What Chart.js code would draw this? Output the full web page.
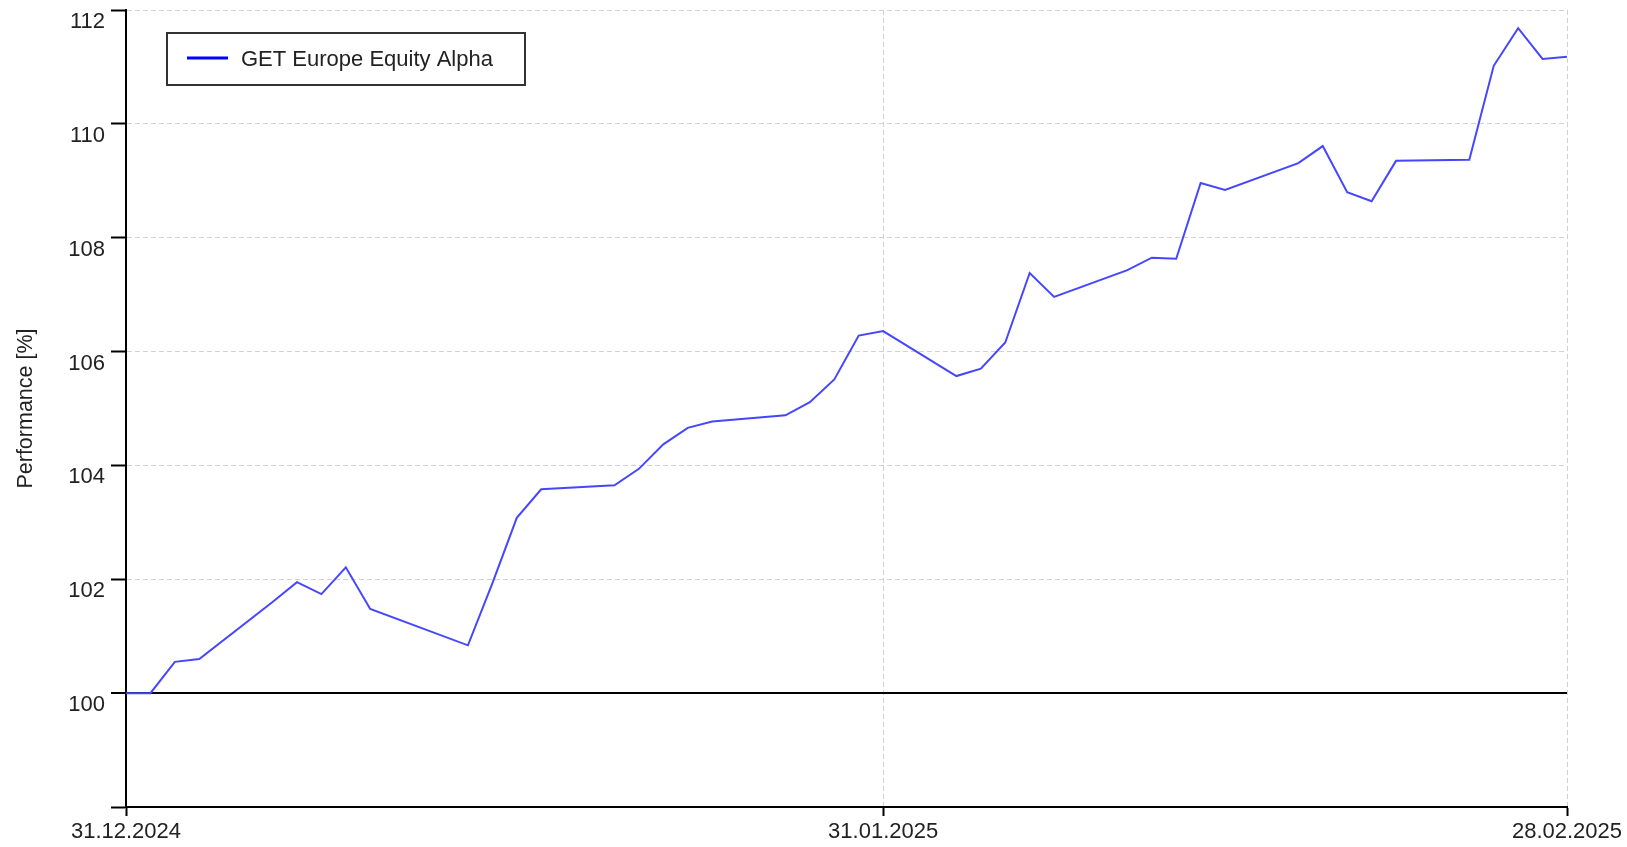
<!DOCTYPE html>
<html>
<head>
<meta charset="utf-8">
<script src="https://cdn.jsdelivr.net/npm/chart.js@4.4.1/dist/chart.umd.min.js"></script>
<style>
  body { margin: 0; background: #fff; }
  #wrap { width: 1627px; height: 847px; }
</style>
</head>
<body>
<div id="wrap"><canvas id="chart-perf" width="1627" height="847"></canvas></div>
<script>
let seriesLabel = "GET Europe Equity Alpha"

let dates = [
    "31.12.2024", "01.01.2025", "02.01.2025", "03.01.2025", "06.01.2025", "07.01.2025",
    "08.01.2025", "09.01.2025", "10.01.2025", "14.01.2025", "15.01.2025", "16.01.2025",
    "17.01.2025", "20.01.2025", "21.01.2025", "22.01.2025", "23.01.2025", "24.01.2025",
    "27.01.2025", "28.01.2025", "29.01.2025", "30.01.2025", "31.01.2025", "03.02.2025",
    "04.02.2025", "05.02.2025", "06.02.2025", "07.02.2025", "10.02.2025", "11.02.2025",
    "12.02.2025", "13.02.2025", "14.02.2025", "17.02.2025", "18.02.2025", "19.02.2025",
    "20.02.2025", "21.02.2025", "24.02.2025", "25.02.2025", "26.02.2025", "27.02.2025",
    "28.02.2025"
]

let values = [
    100.00, 100.00, 100.55, 100.60, 101.60, 101.95,
    101.74, 102.21, 101.48, 100.84, 101.93, 103.08,
    103.58, 103.65, 103.94, 104.37, 104.66, 104.77,
    104.88, 105.11, 105.51, 106.28, 106.36, 105.57,
    105.70, 106.16, 107.38, 106.96, 107.43, 107.65,
    107.63, 108.96, 108.84, 109.31, 109.61, 108.80,
    108.64, 109.35, 109.37, 111.02, 111.68, 111.14,
    111.18
]

let xTickDates = ["31.12.2024", "31.01.2025", "28.02.2025"]
let yMin = 98
let yMax = 112
let yStep = 2
let yAxisTitle = "Performance [%]"

let fontFamily = "'Liberation Sans', Arial, sans-serif"

// dd.mm.yyyy -> days since first date
function toDay(s) {
    let p = s.split(".")
    return Date.UTC(+p[2], +p[1] - 1, +p[0]) / 86400000
}
let day0 = toDay(dates[0])

let points = []
for (let i = 0; i < dates.length; i++) {
    points.push({ x: toDay(dates[i]) - day0, y: values[i] })
}

let dayLabels = {}
xTickDates.forEach((d) => { dayLabels[toDay(d) - day0] = d })

let isZeroLine = (ctx) => ctx.tick && ctx.tick.value === 100

// legend drawn as a box inside the plot
let boxLegend = {
    id: "boxLegend",
    afterDraw(chart) {
        let ctx = chart.ctx
        ctx.save()
        ctx.lineWidth = 2
        ctx.strokeStyle = "#333"
        ctx.strokeRect(167, 33, 358, 52)
        ctx.beginPath()
        ctx.strokeStyle = "#0000ff"
        ctx.lineWidth = 3
        ctx.moveTo(187, 58)
        ctx.lineTo(228, 58)
        ctx.stroke()
        ctx.fillStyle = "#222"
        ctx.font = "22px " + fontFamily
        ctx.textBaseline = "middle"
        ctx.fillText(chart.data.datasets[0].label, 241, 60)
        ctx.restore()
    }
}

let perfChart = new Chart(
    document.getElementById("chart-perf").getContext("2d"),
    {
        type: "line",
        data: {
            datasets: [{
                label: seriesLabel,
                data: points,
                borderColor: "#4646ff",
                borderWidth: 2,
                pointRadius: 0,
                tension: 0,
                fill: false
            }]
        },
        options: {
            responsive: false,
            animation: false,
            layout: { padding: { top: 10, right: 60, left: 0, bottom: 0 } },
            plugins: {
                legend: { display: false },
                tooltip: { enabled: false }
            },
            scales: {
                x: {
                    type: "linear",
                    min: 0,
                    max: toDay(xTickDates[2]) - day0,
                    afterBuildTicks: (scale) => {
                        scale.ticks = xTickDates.map((d) => ({ value: toDay(d) - day0 }))
                    },
                    afterFit: (scale) => {
                        scale.height = 40
                        scale.paddingLeft = 0
                        scale.paddingRight = 0
                    },
                    ticks: {
                        callback: (v) => dayLabels[v] || "",
                        color: "#222",
                        font: { family: fontFamily, size: 22 },
                        maxRotation: 0,
                        autoSkip: false,
                        padding: 3
                    },
                    grid: {
                        color: "#d2d2d2",
                        lineWidth: 1,
                        tickColor: "#000",
                        tickLength: 9,
                        tickWidth: 2
                    },
                    border: { color: "#000", width: 2, dash: [5, 3] }
                },
                y: {
                    min: yMin,
                    max: yMax,
                    afterFit: (scale) => {
                        scale.width = 126
                        scale.paddingTop = 0
                        scale.paddingBottom = 0
                    },
                    ticks: {
                        stepSize: yStep,
                        callback: (v) => v === yMin ? "" : v,
                        color: "#222",
                        font: { family: fontFamily, size: 22 },
                        labelOffset: 12,
                        padding: 6
                    },
                    grid: {
                        color: (ctx) => isZeroLine(ctx) ? "#000" : "#d2d2d2",
                        lineWidth: (ctx) => isZeroLine(ctx) ? 2 : 1,
                        tickColor: "#000",
                        tickLength: 15,
                        tickWidth: 2
                    },
                    border: {
                        color: "#000",
                        width: 2,
                        dash: (ctx) => isZeroLine(ctx) ? [] : [5, 3]
                    },
                    title: {
                        display: true,
                        text: yAxisTitle,
                        color: "#222",
                        font: { family: fontFamily, size: 21.5 },
                        padding: { top: 13, bottom: 0 }
                    }
                }
            }
        },
        plugins: [boxLegend]
    }
)
</script>
</body>
</html>
